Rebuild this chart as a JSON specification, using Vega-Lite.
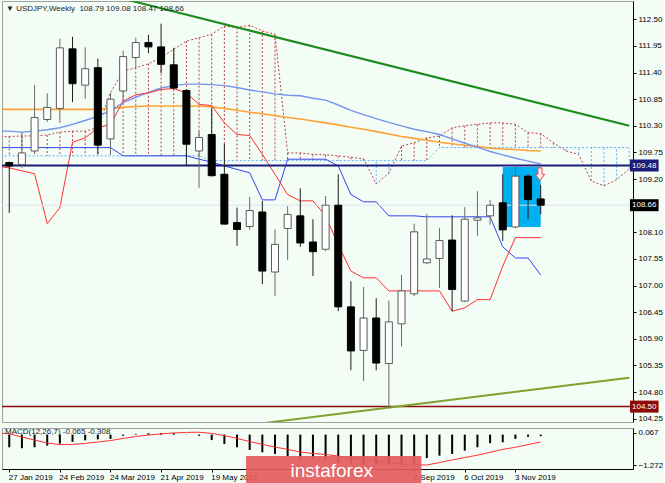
{
  "$schema": "https://vega.github.io/schema/vega-lite/v6.json",
  "background": "#f4fcf6",
  "padding": {"left": 1, "top": 0, "right": 0, "bottom": 0},
  "spacing": 3,
  "config": {
    "font": "Liberation Sans",
    "view": {"stroke": "#a0a0a0", "strokeWidth": 1},
    "axis": {"grid": false, "domainColor": "#000000", "tickColor": "#000000", "labelColor": "#000000", "labelFont": "Liberation Sans", "labelFontSize": 8, "tickSize": 3, "labelOverlap": false},
    "title": {"anchor": "start", "font": "Liberation Sans", "fontSize": 8, "fontWeight": "normal", "color": "#1a1a1a"}
  },
  "datasets": {
    "candles": [
      {"d":"2019-01-27","o":109.54,"h":109.56,"l":108.50,"c":109.47},
      {"d":"2019-02-03","o":109.50,"h":110.17,"l":109.43,"c":109.74},
      {"d":"2019-02-10","o":109.78,"h":111.14,"l":109.74,"c":110.47},
      {"d":"2019-02-17","o":110.43,"h":110.97,"l":110.38,"c":110.68},
      {"d":"2019-02-24","o":110.66,"h":112.10,"l":110.36,"c":111.91},
      {"d":"2019-03-03","o":111.89,"h":112.14,"l":110.79,"c":111.17},
      {"d":"2019-03-10","o":111.14,"h":111.92,"l":110.86,"c":111.48},
      {"d":"2019-03-17","o":111.50,"h":111.69,"l":109.71,"c":109.90},
      {"d":"2019-03-24","o":110.03,"h":110.97,"l":109.70,"c":110.85},
      {"d":"2019-03-31","o":111.02,"h":111.85,"l":110.80,"c":111.73},
      {"d":"2019-04-07","o":111.71,"h":112.12,"l":111.50,"c":112.02},
      {"d":"2019-04-14","o":112.02,"h":112.18,"l":111.80,"c":111.93},
      {"d":"2019-04-21","o":111.93,"h":112.41,"l":111.39,"c":111.57},
      {"d":"2019-04-28","o":111.56,"h":111.91,"l":111.05,"c":111.08},
      {"d":"2019-05-05","o":111.03,"h":111.06,"l":109.47,"c":109.92},
      {"d":"2019-05-12","o":109.78,"h":110.19,"l":109.02,"c":110.06},
      {"d":"2019-05-19","o":110.12,"h":110.67,"l":109.25,"c":109.27},
      {"d":"2019-05-26","o":109.30,"h":109.93,"l":108.26,"c":108.27},
      {"d":"2019-06-02","o":108.30,"h":108.61,"l":107.82,"c":108.16},
      {"d":"2019-06-09","o":108.22,"h":108.83,"l":108.16,"c":108.55},
      {"d":"2019-06-16","o":108.52,"h":108.75,"l":107.03,"c":107.30},
      {"d":"2019-06-23","o":107.28,"h":108.16,"l":106.78,"c":107.85},
      {"d":"2019-06-30","o":108.18,"h":108.64,"l":107.53,"c":108.47},
      {"d":"2019-07-07","o":108.44,"h":109.01,"l":107.80,"c":107.88},
      {"d":"2019-07-14","o":107.90,"h":108.37,"l":107.20,"c":107.70},
      {"d":"2019-07-21","o":107.75,"h":108.85,"l":107.71,"c":108.66},
      {"d":"2019-07-28","o":108.66,"h":109.30,"l":106.47,"c":106.56},
      {"d":"2019-08-04","o":106.56,"h":107.09,"l":105.25,"c":105.65},
      {"d":"2019-08-11","o":105.66,"h":106.97,"l":105.03,"c":106.33},
      {"d":"2019-08-18","o":106.33,"h":106.74,"l":105.25,"c":105.40},
      {"d":"2019-08-25","o":105.39,"h":106.69,"l":104.46,"c":106.25},
      {"d":"2019-09-01","o":106.21,"h":107.22,"l":105.74,"c":106.89},
      {"d":"2019-09-08","o":106.83,"h":108.28,"l":106.78,"c":108.11},
      {"d":"2019-09-15","o":107.47,"h":108.48,"l":107.45,"c":107.55},
      {"d":"2019-09-22","o":107.56,"h":108.19,"l":106.95,"c":107.93},
      {"d":"2019-09-29","o":107.94,"h":108.45,"l":106.47,"c":106.92},
      {"d":"2019-10-06","o":106.68,"h":108.62,"l":106.66,"c":108.37},
      {"d":"2019-10-13","o":108.35,"h":108.95,"l":108.03,"c":108.40},
      {"d":"2019-10-20","o":108.44,"h":108.77,"l":108.26,"c":108.66},
      {"d":"2019-10-27","o":108.71,"h":109.30,"l":107.92,"c":108.15},
      {"d":"2019-11-03","o":108.21,"h":109.48,"l":108.18,"c":109.26},
      {"d":"2019-11-10","o":109.26,"h":109.30,"l":108.37,"c":108.78},
      {"d":"2019-11-17","o":108.79,"h":109.08,"l":108.47,"c":108.66}
    ],
    "ind": [
      {"d":"2019-01-20","t":109.47,"k":109.85,"m1":110.19,"m2":110.64},
      {"d":"2019-01-27","t":109.43,"k":109.85,"m1":110.19,"m2":110.64},
      {"d":"2019-02-03","t":109.37,"k":109.85,"m1":110.17,"m2":110.64},
      {"d":"2019-02-10","t":109.31,"k":109.85,"m1":110.19,"m2":110.64},
      {"d":"2019-02-17","t":108.28,"k":109.85,"m1":110.22,"m2":110.64},
      {"d":"2019-02-24","t":108.61,"k":109.85,"m1":110.26,"m2":110.64},
      {"d":"2019-03-03","t":109.96,"k":109.85,"m1":110.33,"m2":110.64},
      {"d":"2019-03-10","t":110.05,"k":109.85,"m1":110.41,"m2":110.64},
      {"d":"2019-03-17","t":110.26,"k":109.85,"m1":110.50,"m2":110.64},
      {"d":"2019-03-24","t":110.33,"k":109.85,"m1":110.61,"m2":110.66},
      {"d":"2019-03-31","t":110.81,"k":109.68,"m1":110.78,"m2":110.68},
      {"d":"2019-04-07","t":110.94,"k":109.68,"m1":110.89,"m2":110.70},
      {"d":"2019-04-14","t":110.98,"k":109.68,"m1":110.99,"m2":110.71},
      {"d":"2019-04-21","t":111.05,"k":109.68,"m1":111.08,"m2":110.71},
      {"d":"2019-04-28","t":111.07,"k":109.68,"m1":111.13,"m2":110.71},
      {"d":"2019-05-05","t":110.98,"k":109.68,"m1":111.16,"m2":110.71},
      {"d":"2019-05-12","t":110.74,"k":109.61,"m1":111.16,"m2":110.71},
      {"d":"2019-05-19","t":110.72,"k":109.55,"m1":111.15,"m2":110.69},
      {"d":"2019-05-26","t":110.36,"k":109.47,"m1":111.13,"m2":110.66},
      {"d":"2019-06-02","t":110.12,"k":109.40,"m1":111.09,"m2":110.62},
      {"d":"2019-06-09","t":110.10,"k":109.33,"m1":111.04,"m2":110.58},
      {"d":"2019-06-16","t":109.71,"k":108.77,"m1":111.00,"m2":110.55},
      {"d":"2019-06-23","t":109.30,"k":108.77,"m1":110.96,"m2":110.51},
      {"d":"2019-06-30","t":108.88,"k":109.61,"m1":110.93,"m2":110.47},
      {"d":"2019-07-07","t":108.75,"k":109.61,"m1":110.92,"m2":110.44},
      {"d":"2019-07-14","t":108.75,"k":109.61,"m1":110.87,"m2":110.40},
      {"d":"2019-07-21","t":108.44,"k":109.61,"m1":110.83,"m2":110.36},
      {"d":"2019-07-28","t":107.84,"k":109.47,"m1":110.73,"m2":110.32},
      {"d":"2019-08-04","t":107.30,"k":108.88,"m1":110.62,"m2":110.27},
      {"d":"2019-08-11","t":107.16,"k":108.73,"m1":110.53,"m2":110.23},
      {"d":"2019-08-18","t":107.16,"k":108.73,"m1":110.45,"m2":110.18},
      {"d":"2019-08-25","t":106.89,"k":108.44,"m1":110.37,"m2":110.13},
      {"d":"2019-09-01","t":106.89,"k":108.44,"m1":110.30,"m2":110.08},
      {"d":"2019-09-08","t":106.89,"k":108.44,"m1":110.23,"m2":110.04},
      {"d":"2019-09-15","t":106.89,"k":108.42,"m1":110.18,"m2":110.00},
      {"d":"2019-09-22","t":106.89,"k":108.42,"m1":110.12,"m2":109.96},
      {"d":"2019-09-29","t":106.47,"k":108.42,"m1":110.03,"m2":109.93},
      {"d":"2019-10-06","t":106.54,"k":108.42,"m1":109.94,"m2":109.90},
      {"d":"2019-10-13","t":106.71,"k":108.42,"m1":109.86,"m2":109.87},
      {"d":"2019-10-20","t":106.71,"k":108.42,"m1":109.77,"m2":109.84},
      {"d":"2019-10-27","t":107.40,"k":107.80,"m1":109.70,"m2":109.82},
      {"d":"2019-11-03","t":107.99,"k":107.57,"m1":109.63,"m2":109.81},
      {"d":"2019-11-10","t":107.99,"k":107.57,"m1":109.57,"m2":109.79},
      {"d":"2019-11-17","t":107.99,"k":107.22,"m1":109.51,"m2":109.78}
    ],
    "kumo": [
      {"d":"2019-01-20","a":110.07,"b":109.68},
      {"d":"2019-01-27","a":110.08,"b":109.68},
      {"d":"2019-02-03","a":110.09,"b":109.68},
      {"d":"2019-02-10","a":110.09,"b":109.68},
      {"d":"2019-02-17","a":110.11,"b":109.68},
      {"d":"2019-02-24","a":110.17,"b":109.68},
      {"d":"2019-03-03","a":110.19,"b":109.68},
      {"d":"2019-03-10","a":110.19,"b":109.68},
      {"d":"2019-03-17","a":110.26,"b":109.68},
      {"d":"2019-03-24","a":110.98,"b":109.68},
      {"d":"2019-03-31","a":111.43,"b":109.68},
      {"d":"2019-04-07","a":111.50,"b":109.68},
      {"d":"2019-04-14","a":111.58,"b":109.68},
      {"d":"2019-04-21","a":111.71,"b":109.68},
      {"d":"2019-04-28","a":111.88,"b":109.68},
      {"d":"2019-05-05","a":112.05,"b":109.68},
      {"d":"2019-05-12","a":112.12,"b":109.68},
      {"d":"2019-05-19","a":112.19,"b":109.58},
      {"d":"2019-05-26","a":112.36,"b":109.58},
      {"d":"2019-06-02","a":112.33,"b":109.58},
      {"d":"2019-06-09","a":112.38,"b":109.58},
      {"d":"2019-06-16","a":112.26,"b":109.58},
      {"d":"2019-06-23","a":112.19,"b":109.58},
      {"d":"2019-06-30","a":109.74,"b":109.58},
      {"d":"2019-07-07","a":109.74,"b":109.58},
      {"d":"2019-07-14","a":109.71,"b":109.58},
      {"d":"2019-07-21","a":109.70,"b":109.58},
      {"d":"2019-07-28","a":109.68,"b":109.58},
      {"d":"2019-08-04","a":109.65,"b":109.58},
      {"d":"2019-08-11","a":109.62,"b":109.58},
      {"d":"2019-08-18","a":109.10,"b":109.58},
      {"d":"2019-08-25","a":109.32,"b":109.58},
      {"d":"2019-09-01","a":109.88,"b":109.58},
      {"d":"2019-09-08","a":109.95,"b":109.58},
      {"d":"2019-09-15","a":110.05,"b":109.58},
      {"d":"2019-09-22","a":110.09,"b":109.85},
      {"d":"2019-09-29","a":110.26,"b":109.85},
      {"d":"2019-10-06","a":110.30,"b":109.85},
      {"d":"2019-10-13","a":110.33,"b":109.85},
      {"d":"2019-10-20","a":110.36,"b":109.85},
      {"d":"2019-10-27","a":110.36,"b":109.85},
      {"d":"2019-11-03","a":110.33,"b":109.85},
      {"d":"2019-11-10","a":110.16,"b":109.85},
      {"d":"2019-11-17","a":110.14,"b":109.85},
      {"d":"2019-11-24","a":109.95,"b":109.85},
      {"d":"2019-12-01","a":109.78,"b":109.85},
      {"d":"2019-12-08","a":109.71,"b":109.85},
      {"d":"2019-12-15","a":109.16,"b":109.85},
      {"d":"2019-12-22","a":109.06,"b":109.85},
      {"d":"2019-12-29","a":109.19,"b":109.85},
      {"d":"2020-01-05","a":109.41,"b":109.85}
    ],
    "macd": [
      {"d":"2019-01-20","hist":-0.45,"sig":0.08},
      {"d":"2019-01-27","hist":-0.53,"sig":0.03},
      {"d":"2019-02-03","hist":-0.57,"sig":-0.10},
      {"d":"2019-02-10","hist":-0.53,"sig":-0.23},
      {"d":"2019-02-17","hist":-0.46,"sig":-0.35},
      {"d":"2019-02-24","hist":-0.38,"sig":-0.42},
      {"d":"2019-03-03","hist":-0.30,"sig":-0.41},
      {"d":"2019-03-10","hist":-0.24,"sig":-0.37},
      {"d":"2019-03-17","hist":-0.20,"sig":-0.31},
      {"d":"2019-03-24","hist":-0.18,"sig":-0.25},
      {"d":"2019-03-31","hist":-0.05,"sig":-0.16},
      {"d":"2019-04-07","hist":0.03,"sig":-0.08},
      {"d":"2019-04-14","hist":0.06,"sig":-0.02},
      {"d":"2019-04-21","hist":0.067,"sig":0.03},
      {"d":"2019-04-28","hist":0.06,"sig":0.07},
      {"d":"2019-05-05","hist":0.01,"sig":0.09},
      {"d":"2019-05-12","hist":-0.05,"sig":0.10},
      {"d":"2019-05-19","hist":-0.23,"sig":0.05},
      {"d":"2019-05-26","hist":-0.39,"sig":-0.04},
      {"d":"2019-06-02","hist":-0.53,"sig":-0.16},
      {"d":"2019-06-09","hist":-0.64,"sig":-0.29},
      {"d":"2019-06-16","hist":-0.74,"sig":-0.41},
      {"d":"2019-06-23","hist":-0.81,"sig":-0.52},
      {"d":"2019-06-30","hist":-0.92,"sig":-0.62},
      {"d":"2019-07-07","hist":-1.02,"sig":-0.73},
      {"d":"2019-07-14","hist":-1.02,"sig":-0.79},
      {"d":"2019-07-21","hist":-1.09,"sig":-0.83},
      {"d":"2019-07-28","hist":-1.15,"sig":-0.90},
      {"d":"2019-08-04","hist":-1.22,"sig":-0.98},
      {"d":"2019-08-11","hist":-1.25,"sig":-1.05},
      {"d":"2019-08-18","hist":-1.26,"sig":-1.12},
      {"d":"2019-08-25","hist":-1.27,"sig":-1.18},
      {"d":"2019-09-01","hist":-1.25,"sig":-1.22},
      {"d":"2019-09-08","hist":-1.20,"sig":-1.26},
      {"d":"2019-09-15","hist":-0.98,"sig":-1.272},
      {"d":"2019-09-22","hist":-0.88,"sig":-1.17},
      {"d":"2019-09-29","hist":-0.81,"sig":-1.06},
      {"d":"2019-10-06","hist":-0.67,"sig":-0.96},
      {"d":"2019-10-13","hist":-0.53,"sig":-0.86},
      {"d":"2019-10-20","hist":-0.36,"sig":-0.74},
      {"d":"2019-10-27","hist":-0.32,"sig":-0.62},
      {"d":"2019-11-03","hist":-0.18,"sig":-0.53},
      {"d":"2019-11-10","hist":-0.09,"sig":-0.42},
      {"d":"2019-11-17","hist":-0.065,"sig":-0.308}
    ],
    "levels": [
      {"p":109.48,"kind":"res"},
      {"p":108.66,"kind":"bid"},
      {"p":104.50,"kind":"sup"}
    ],
    "trend": [
      {"d":"2019-03-24","p":112.99,"line":"down"},
      {"d":"2020-01-05","p":110.30,"line":"down"},
      {"d":"2019-06-16","p":104.155,"line":"up"},
      {"d":"2020-01-05","p":105.098,"line":"up"}
    ],
    "box": [{"d1":"2019-10-27","d2":"2019-11-17","p1":109.45,"p2":108.21}],
    "arrow": [{"d":"2019-11-16T14:00:00Z","p":109.30}],
    "mark": [{"name":"instaforex"}]
  },
  "vconcat": [
    {
      "width": 631,
      "height": 421,
      "title": {"text": "\u25bc USDJPY,Weekly\u00a0\u00a0108.79 109.08 108.47 108.66", "offset": -12, "dx": 4},
      "resolve": {"axis": {"x": "independent", "y": "independent"}},
      "layer": [
        {
          "data": {"name": "box"},
          "mark": {"type": "rect", "color": "#00b0f0", "clip": true},
          "encoding": {
            "x": {"field": "d1", "type": "temporal", "scale": {"type": "utc", "domain": [{"year":2019,"month":1,"date":25,"hours":18,"utc":true},{"year":2020,"month":1,"date":4,"hours":7,"utc":true}]}, "axis": null},
            "x2": {"field": "d2"},
            "y": {"field": "p1", "type": "quantitative", "scale": {"domain": [104.182, 112.878], "zero": false, "nice": false},
                  "axis": {"orient": "right", "title": null, "values": [112.5,111.95,111.4,110.85,110.3,109.75,109.2,108.1,107.55,107.0,106.45,105.9,105.35,104.8,104.25], "format": ".2f", "labelPadding": 2, "labelOverlap": false}},
            "y2": {"field": "p2"}
          }
        },
        {
          "data": {"name": "kumo"},
          "mark": {"type": "rule", "strokeDash": [2, 2], "strokeWidth": 1, "clip": true},
          "encoding": {
            "x": {"field": "d", "type": "temporal", "axis": null},
            "y": {"field": "a", "type": "quantitative", "axis": null},
            "y2": {"field": "b"},
            "color": {"condition": {"test": "datum.a >= datum.b", "value": "#b84545"}, "value": "#5aaeff"}
          }
        },
        {
          "data": {"name": "kumo"},
          "mark": {"type": "line", "strokeDash": [2, 2], "strokeWidth": 1, "color": "#b84545", "clip": true},
          "encoding": {"x": {"field": "d", "type": "temporal", "axis": null}, "y": {"field": "a", "type": "quantitative", "axis": null}}
        },
        {
          "data": {"name": "kumo"},
          "mark": {"type": "line", "strokeDash": [2, 2], "strokeWidth": 1, "color": "#5aaeff", "clip": true},
          "encoding": {"x": {"field": "d", "type": "temporal", "axis": null}, "y": {"field": "b", "type": "quantitative", "axis": null}}
        },
        {
          "data": {"name": "ind"},
          "mark": {"type": "line", "strokeWidth": 1.6, "color": "#ffa235", "clip": true},
          "encoding": {"x": {"field": "d", "type": "temporal", "axis": null}, "y": {"field": "m2", "type": "quantitative", "axis": null}}
        },
        {
          "data": {"name": "ind"},
          "mark": {"type": "line", "strokeWidth": 1.4, "color": "#7494ee", "clip": true},
          "encoding": {"x": {"field": "d", "type": "temporal", "axis": null}, "y": {"field": "m1", "type": "quantitative", "axis": null}}
        },
        {
          "data": {"name": "ind"},
          "mark": {"type": "line", "strokeWidth": 1, "color": "#3344ee", "clip": true},
          "encoding": {"x": {"field": "d", "type": "temporal", "axis": null}, "y": {"field": "k", "type": "quantitative", "axis": null}}
        },
        {
          "data": {"name": "ind"},
          "mark": {"type": "line", "strokeWidth": 1, "color": "#ff2e2e", "clip": true},
          "encoding": {"x": {"field": "d", "type": "temporal", "axis": null}, "y": {"field": "t", "type": "quantitative", "axis": null}}
        },
        {
          "data": {"name": "levels"},
          "mark": {"type": "rule", "clip": true},
          "encoding": {
            "y": {"field": "p", "type": "quantitative", "axis": null},
            "color": {"condition": [{"test": "datum.kind === 'res'", "value": "#1b1b7a"}, {"test": "datum.kind === 'sup'", "value": "#8b0a0a"}], "value": "#dde5ef"},
            "strokeWidth": {"condition": [{"test": "datum.kind === 'bid'", "value": 1}, {"test": "datum.kind === 'sup'", "value": 1.5}], "value": 2}
          }
        },
        {
          "data": {"name": "trend"},
          "mark": {"type": "line", "strokeWidth": 2, "clip": true},
          "encoding": {
            "x": {"field": "d", "type": "temporal", "axis": null},
            "y": {"field": "p", "type": "quantitative", "axis": null},
            "detail": {"field": "line"},
            "color": {"field": "line", "type": "nominal", "scale": {"domain": ["down", "up"], "range": ["#1a8c1a", "#7ea32c"]}, "legend": null}
          }
        },
        {
          "data": {"name": "candles"},
          "mark": {"type": "rule", "strokeWidth": 1, "clip": true},
          "encoding": {
            "x": {"field": "d", "type": "temporal", "axis": null},
            "y": {"field": "l", "type": "quantitative", "axis": null},
            "y2": {"field": "h"},
            "color": {"condition": {"test": "datum.c >= datum.o", "value": "#6a6a6a"}, "value": "#1e1e1e"}
          }
        },
        {
          "data": {"name": "candles"},
          "mark": {"type": "bar", "width": 7, "strokeWidth": 1, "clip": true},
          "encoding": {
            "x": {"field": "d", "type": "temporal", "axis": null},
            "y": {"field": "o", "type": "quantitative", "axis": null},
            "y2": {"field": "c"},
            "fill": {"condition": {"test": "datum.c >= datum.o", "value": "#ffffff"}, "value": "#000000"},
            "stroke": {"condition": {"test": "datum.c >= datum.o", "value": "#5a5a5a"}, "value": "#000000"}
          }
        },
        {
          "data": {"name": "arrow"},
          "mark": {"type": "point", "shape": "M-0.33,-1L0.33,-1L0.33,0L0.75,0L0,1L-0.75,0L-0.33,0Z", "size": 160, "filled": true, "fill": "#fff0f0", "stroke": "#e84a4a", "strokeWidth": 1, "opacity": 1},
          "encoding": {"x": {"field": "d", "type": "temporal", "axis": null}, "y": {"field": "p", "type": "quantitative", "axis": null}}
        },
        {
          "data": {"name": "levels"},
          "mark": {"type": "rect", "yOffset": -6, "y2Offset": 6, "clip": false},
          "encoding": {
            "x": {"datum": {"year":2020,"month":1,"date":5,"hours":9,"utc":true}, "type": "temporal", "axis": null},
            "x2": {"datum": {"year":2020,"month":1,"date":21,"hours":5,"utc":true}},
            "y": {"field": "p", "type": "quantitative", "axis": null},
            "y2": {"field": "p"},
            "fill": {"condition": [{"test": "datum.kind === 'res'", "value": "#1b1b7a"}, {"test": "datum.kind === 'sup'", "value": "#8b0a0a"}], "value": "#000000"}
          }
        },
        {
          "data": {"name": "levels"},
          "mark": {"type": "text", "color": "#ffffff", "fontSize": 8, "align": "center", "baseline": "middle", "clip": false},
          "encoding": {
            "x": {"datum": {"year":2020,"month":1,"date":13,"hours":7,"utc":true}, "type": "temporal", "axis": null},
            "y": {"field": "p", "type": "quantitative", "axis": null},
            "text": {"field": "p", "type": "quantitative", "format": ".2f"}
          }
        }
      ]
    },
    {
      "width": 631,
      "height": 41,
      "title": {"text": "MACD(12,26,7) -0.065 -0.308", "offset": -8, "dx": 3},
      "resolve": {"axis": {"x": "independent", "y": "independent"}},
      "layer": [
        {
          "data": {"name": "macd"},
          "mark": {"type": "bar", "width": 2, "color": "#000000", "clip": true},
          "encoding": {
            "x": {"field": "d", "type": "temporal",
                  "scale": {"type": "utc", "domain": [{"year":2019,"month":1,"date":25,"hours":18,"utc":true},{"year":2020,"month":1,"date":4,"hours":7,"utc":true}]},
                  "axis": {"orient": "bottom", "title": null, "labelExpr": "utcFormat(datum.value, '%-d %b %Y')", "labelAlign": "left", "labelBaseline": "top", "labelPadding": 1, "labelOffset": -1, "labelOverlap": false, "labelFlush": false,
                           "values": [{"year":2019,"month":1,"date":27,"utc":true},{"year":2019,"month":2,"date":24,"utc":true},{"year":2019,"month":3,"date":24,"utc":true},{"year":2019,"month":4,"date":21,"utc":true},{"year":2019,"month":5,"date":19,"utc":true},{"year":2019,"month":9,"date":8,"utc":true},{"year":2019,"month":10,"date":6,"utc":true},{"year":2019,"month":11,"date":3,"utc":true}]}},
            "y": {"field": "hist", "type": "quantitative", "scale": {"domain": [-1.439, 0.276], "zero": false, "nice": false},
                  "axis": {"orient": "right", "title": null, "values": [0.067, -1.272], "format": ".3f", "labelPadding": 2, "labelOverlap": false}},
            "y2": {"datum": 0}
          }
        },
        {
          "data": {"name": "macd"},
          "mark": {"type": "line", "color": "#ff3030", "strokeWidth": 1, "clip": true},
          "encoding": {"x": {"field": "d", "type": "temporal", "axis": null}, "y": {"field": "sig", "type": "quantitative", "axis": null}}
        },
        {
          "data": {"name": "mark"},
          "mark": {"type": "rect", "color": "#e35c5c", "opacity": 0.92, "clip": false},
          "encoding": {
            "x": {"datum": {"year":2019,"month":6,"date":7,"utc":true}, "type": "temporal", "axis": null},
            "x2": {"datum": {"year":2019,"month":9,"date":12,"utc":true}},
            "y": {"datum": -0.895, "type": "quantitative", "axis": null},
            "y2": {"datum": -2.2}
          }
        },
        {
          "data": {"name": "mark"},
          "mark": {"type": "text", "color": "#ffffff", "fontSize": 19, "align": "center", "baseline": "middle", "clip": false},
          "encoding": {
            "x": {"datum": {"year":2019,"month":7,"date":24,"hours":10,"utc":true}, "type": "temporal", "axis": null},
            "y": {"datum": -1.52, "type": "quantitative", "axis": null},
            "text": {"field": "name", "type": "nominal"}
          }
        }
      ]
    }
  ]
}
